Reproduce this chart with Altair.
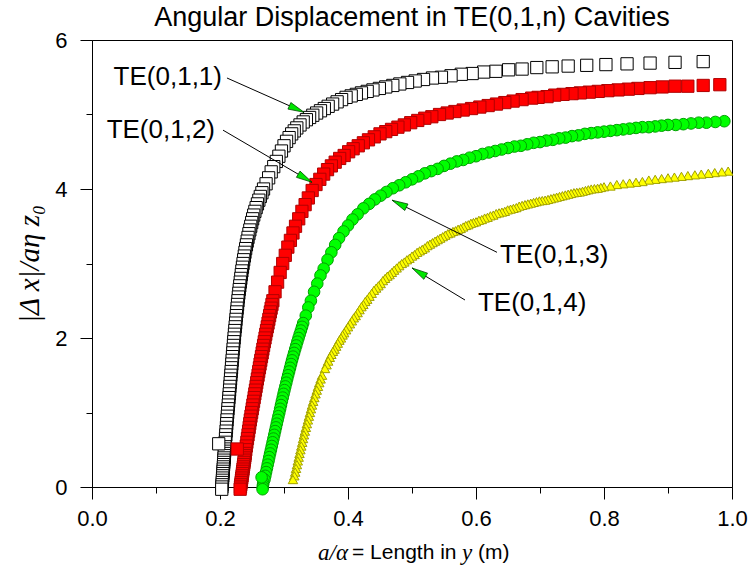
import altair as alt
import pandas as pd

title_text = "Angular Displacement in TE(0,1,n) Cavities"
x_title_parts = ["a/α", "= Length in", "y", "(m)"]
y_title = "|Δ x|/aη z₀"

x_major = [0.0, 0.2, 0.4, 0.6, 0.8, 1.0]
x_minor = [0.1, 0.3, 0.5, 0.7, 0.9]
y_major = [0, 2, 4, 6]
y_minor = [1, 3, 5]

# TE(0,1,1) - open squares
te011_x = [0.2027, 0.2030, 0.2033, 0.2035, 0.2038, 0.2040, 0.2043, 0.2046, 0.2048, 0.2051,
           0.2053, 0.2056, 0.2059, 0.2061, 0.2064, 0.2067, 0.2069, 0.2072, 0.2074, 0.2077,
           0.2082, 0.2086, 0.2091, 0.2096, 0.2101, 0.2105, 0.2110, 0.2115, 0.2120, 0.2125,
           0.2130, 0.2135, 0.2140, 0.2145, 0.2150, 0.2155, 0.2160, 0.2165, 0.2170, 0.2175,
           0.2180, 0.2185, 0.2190, 0.2195, 0.2200, 0.2205, 0.2210, 0.2215, 0.2221, 0.2226,
           0.2232, 0.2238, 0.2244, 0.2250, 0.2256, 0.2262, 0.2268, 0.2274, 0.2281, 0.2287,
           0.2294, 0.2301, 0.2309, 0.2317, 0.2325, 0.2333, 0.2342, 0.2351, 0.2360, 0.2370,
           0.2380, 0.2390, 0.2401, 0.2413, 0.2425, 0.2438, 0.2452, 0.2466, 0.2480, 0.2495,
           0.2510, 0.2527, 0.2545, 0.2565, 0.2585, 0.2607, 0.2630, 0.2655, 0.2680,
           0.272, 0.276, 0.280, 0.284, 0.288, 0.292, 0.296, 0.300, 0.304, 0.308,
           0.312, 0.316, 0.320, 0.325, 0.330, 0.335, 0.340, 0.345, 0.351, 0.357,
           0.363, 0.369, 0.376, 0.383, 0.390, 0.397, 0.405, 0.413, 0.421, 0.430,
           0.439, 0.449, 0.459, 0.470, 0.481, 0.493, 0.505, 0.518, 0.532, 0.546,
           0.561, 0.577, 0.594, 0.612, 0.631, 0.651, 0.672, 0.695, 0.719, 0.744,
           0.773, 0.803, 0.836, 0.872, 0.911, 0.955]
te011_y = [-0.03, 0.00, 0.03, 0.06, 0.09, 0.12, 0.15, 0.18, 0.21, 0.24,
           0.27, 0.30, 0.33, 0.36, 0.39, 0.42, 0.45, 0.48, 0.51, 0.54,
           0.60, 0.65, 0.70, 0.75, 0.80, 0.85, 0.90, 0.95, 1.00, 1.05,
           1.10, 1.15, 1.20, 1.25, 1.30, 1.35, 1.40, 1.45, 1.50, 1.55,
           1.60, 1.65, 1.70, 1.75, 1.80, 1.85, 1.90, 1.95, 2.00, 2.05,
           2.10, 2.15, 2.20, 2.25, 2.30, 2.35, 2.40, 2.45, 2.50, 2.55,
           2.60, 2.65, 2.70, 2.75, 2.80, 2.85, 2.90, 2.95, 3.00, 3.05,
           3.10, 3.15, 3.20, 3.25, 3.30, 3.35, 3.40, 3.45, 3.50, 3.55,
           3.60, 3.65, 3.70, 3.75, 3.80, 3.85, 3.90, 3.95, 4.00,
           4.07, 4.15, 4.23, 4.30, 4.37, 4.44, 4.51, 4.58, 4.64, 4.69,
           4.74, 4.78, 4.82, 4.86, 4.90, 4.93, 4.96, 4.99, 5.02, 5.05,
           5.08, 5.11, 5.14, 5.17, 5.20, 5.23, 5.25, 5.27, 5.29, 5.31,
           5.33, 5.35, 5.37, 5.39, 5.41, 5.43, 5.45, 5.47, 5.49, 5.50,
           5.52, 5.54, 5.55, 5.57, 5.58, 5.60, 5.61, 5.63, 5.64, 5.65,
           5.66, 5.67, 5.68, 5.69, 5.70, 5.71]
te011_first_x = [0.198]
te011_first_y = [0.58]

# TE(0,1,2) - red squares
te012_x = [0.2315, 0.2320, 0.2325, 0.2330, 0.2335, 0.2340, 0.2345, 0.2350, 0.2355, 0.2360,
           0.2365, 0.2370, 0.2375, 0.2380, 0.2385, 0.2390,
           0.2395, 0.2403, 0.2411, 0.2420, 0.2429, 0.2438, 0.2447, 0.2456, 0.2465, 0.2474,
           0.2484, 0.2494, 0.2504, 0.2514, 0.2524, 0.2534, 0.2544, 0.2554, 0.2564, 0.2574,
           0.2584, 0.2595, 0.2605, 0.2616, 0.2626, 0.2637, 0.2648, 0.2659, 0.2670, 0.2681,
           0.2692, 0.2704, 0.2715, 0.2727, 0.2739, 0.2751, 0.2763, 0.2775, 0.2787, 0.2799,
           0.2812, 0.2826,
           0.286, 0.290, 0.294, 0.298, 0.302, 0.306, 0.310, 0.314, 0.318, 0.323,
           0.328, 0.333, 0.338, 0.344, 0.350, 0.356, 0.362, 0.368, 0.374, 0.380,
           0.387, 0.394, 0.401, 0.408, 0.416, 0.424, 0.432, 0.441, 0.450, 0.459,
           0.468, 0.478, 0.488, 0.498, 0.509, 0.520, 0.531, 0.543, 0.555, 0.567,
           0.580, 0.593, 0.606, 0.619, 0.632, 0.645, 0.658, 0.672, 0.687, 0.697,
           0.711, 0.723, 0.736, 0.750, 0.763, 0.777, 0.791, 0.806, 0.822, 0.838,
           0.853, 0.872, 0.891, 0.911, 0.931, 0.955, 0.981]
te012_y = [-0.03, 0.00, 0.03, 0.06, 0.09, 0.12, 0.15, 0.18, 0.21, 0.24,
           0.27, 0.30, 0.33, 0.36, 0.39, 0.42,
           0.45, 0.50, 0.55, 0.60, 0.65, 0.70, 0.75, 0.80, 0.85, 0.90,
           0.95, 1.00, 1.05, 1.10, 1.15, 1.20, 1.25, 1.30, 1.35, 1.40,
           1.45, 1.50, 1.55, 1.60, 1.65, 1.70, 1.75, 1.80, 1.85, 1.90,
           1.95, 2.00, 2.05, 2.10, 2.15, 2.20, 2.25, 2.30, 2.35, 2.40,
           2.45, 2.50,
           2.62, 2.75, 2.88, 3.00, 3.11, 3.22, 3.31, 3.41, 3.50, 3.60,
           3.70, 3.79, 3.88, 3.98, 4.06, 4.13, 4.20, 4.26, 4.31, 4.36,
           4.41, 4.45, 4.50, 4.54, 4.58, 4.62, 4.66, 4.70, 4.74, 4.77,
           4.80, 4.83, 4.86, 4.89, 4.92, 4.95, 4.97, 5.00, 5.02, 5.04,
           5.06, 5.08, 5.10, 5.12, 5.14, 5.16, 5.18, 5.20, 5.22, 5.23,
           5.24, 5.26, 5.27, 5.28, 5.29, 5.30, 5.31, 5.32, 5.33, 5.34,
           5.35, 5.36, 5.37, 5.38, 5.38, 5.39, 5.40]
te012_first_x = [0.227]
te012_first_y = [0.51]

# TE(0,1,3) - green circles
te013_x = [0.2665, 0.2668, 0.2672, 0.2676,
           0.2695, 0.2708, 0.2720, 0.2733, 0.2745, 0.2758, 0.2770, 0.2783, 0.2796, 0.2809,
           0.2822, 0.2835, 0.2848, 0.2861, 0.2874, 0.2887, 0.2900, 0.2913, 0.2927, 0.2940,
           0.2953, 0.2966, 0.2980, 0.2993, 0.3007, 0.3021, 0.3036, 0.3050, 0.3065, 0.3080,
           0.3095, 0.3110, 0.3125, 0.3141, 0.3158, 0.3175, 0.3192, 0.3209, 0.3227, 0.3245,
           0.3264, 0.3282, 0.3300,
           0.334, 0.338, 0.342, 0.347, 0.352, 0.357, 0.362, 0.368, 0.374, 0.380,
           0.386, 0.393, 0.400, 0.407, 0.415, 0.424, 0.433, 0.442, 0.451, 0.460,
           0.470, 0.480, 0.490, 0.500, 0.510, 0.520, 0.530, 0.540, 0.550, 0.560,
           0.570, 0.580, 0.590, 0.600, 0.610, 0.620, 0.630, 0.640, 0.650, 0.660,
           0.670, 0.680, 0.690, 0.700, 0.710, 0.720, 0.730, 0.740, 0.750, 0.760,
           0.770, 0.780, 0.790, 0.800, 0.810, 0.820, 0.830, 0.840, 0.850, 0.860,
           0.870, 0.880, 0.890, 0.900, 0.912, 0.924, 0.936, 0.948, 0.960, 0.974,
           0.988]
te013_y = [-0.03, 0.00, 0.03, 0.06,
           0.10, 0.15, 0.20, 0.25, 0.30, 0.35, 0.40, 0.45, 0.50, 0.55,
           0.60, 0.65, 0.70, 0.75, 0.80, 0.85, 0.90, 0.95, 1.00, 1.05,
           1.10, 1.15, 1.20, 1.25, 1.30, 1.35, 1.40, 1.45, 1.50, 1.55,
           1.60, 1.65, 1.70, 1.75, 1.80, 1.85, 1.90, 1.95, 2.00, 2.05,
           2.10, 2.15, 2.20,
           2.30, 2.41, 2.50, 2.62, 2.73, 2.84, 2.93, 3.05, 3.15, 3.25,
           3.34, 3.43, 3.51, 3.59, 3.66, 3.74, 3.80, 3.86, 3.91, 3.96,
           4.01, 4.05, 4.09, 4.13, 4.17, 4.21, 4.24, 4.27, 4.31, 4.34,
           4.37, 4.39, 4.42, 4.44, 4.47, 4.49, 4.51, 4.53, 4.55, 4.57,
           4.58, 4.60, 4.62, 4.63, 4.65, 4.66, 4.68, 4.69, 4.71, 4.72,
           4.74, 4.75, 4.76, 4.77, 4.78, 4.79, 4.80, 4.81, 4.82, 4.83,
           4.83, 4.84, 4.85, 4.86, 4.86, 4.87, 4.88, 4.89, 4.89, 4.90,
           4.91]
te013_first_x = [0.265]
te013_first_y = [0.13]

# TE(0,1,4) - yellow triangles
te014_x = [0.3161, 0.3175, 0.3188, 0.3202, 0.3215, 0.3229, 0.3242, 0.3256, 0.3270, 0.3284,
           0.3297, 0.3311, 0.3326, 0.3342, 0.3357, 0.3373, 0.3389, 0.3405, 0.3421, 0.3437,
           0.3455, 0.3474, 0.3493, 0.3512, 0.3531, 0.3551, 0.3572, 0.3594,
           0.3640, 0.3665, 0.3690, 0.3715, 0.3740, 0.3765, 0.3790, 0.3815, 0.3840, 0.3865,
           0.3890, 0.3915, 0.3940, 0.3970, 0.4000, 0.4030, 0.4060, 0.4090, 0.4120, 0.4150,
           0.4180, 0.4210, 0.4240, 0.4270, 0.4300, 0.4335, 0.4370, 0.4405, 0.4440, 0.4475,
           0.4510, 0.4545, 0.4580, 0.4615, 0.4650, 0.4685, 0.4720, 0.4760, 0.4800, 0.4840,
           0.4880, 0.4920, 0.4960, 0.5000, 0.5040, 0.5080, 0.5120, 0.5160, 0.5200, 0.5240,
           0.5280, 0.5320, 0.5360, 0.5400, 0.5440, 0.5480, 0.5520, 0.5560, 0.5600, 0.5640,
           0.5680, 0.5720, 0.5760, 0.5800, 0.5840, 0.5880, 0.5920, 0.5960, 0.6000, 0.6045,
           0.6090, 0.6135, 0.6180, 0.6225, 0.6270, 0.6315, 0.6360, 0.6405, 0.6450, 0.6495,
           0.6540, 0.6585, 0.6630, 0.6675, 0.6720, 0.6765, 0.6810, 0.6855, 0.6900, 0.6945,
           0.6990, 0.7035, 0.7080, 0.7125, 0.7170, 0.7215, 0.7260, 0.7305, 0.7350, 0.7395,
           0.7440, 0.7485, 0.7530, 0.7575, 0.7620, 0.7665, 0.7710, 0.7755, 0.7800, 0.7850,
           0.7900, 0.7950, 0.8000, 0.8100, 0.8200, 0.8300, 0.8400, 0.8500, 0.8600, 0.8700,
           0.8800, 0.8900, 0.9000, 0.9100, 0.9210, 0.9310, 0.9420, 0.9520, 0.9630, 0.9730,
           0.9840, 0.9940]
te014_y = [0.15, 0.20, 0.25, 0.30, 0.35, 0.40, 0.45, 0.50, 0.55, 0.60,
           0.65, 0.70, 0.75, 0.80, 0.85, 0.90, 0.95, 1.00, 1.05, 1.10,
           1.15, 1.20, 1.25, 1.30, 1.35, 1.40, 1.45, 1.50,
           1.59, 1.64, 1.69, 1.74, 1.78, 1.82, 1.85, 1.89, 1.93, 1.97,
           2.00, 2.04, 2.07, 2.11, 2.15, 2.19, 2.23, 2.27, 2.30, 2.34,
           2.38, 2.42, 2.45, 2.49, 2.52, 2.56, 2.60, 2.64, 2.67, 2.70,
           2.73, 2.77, 2.80, 2.83, 2.85, 2.88, 2.91, 2.94, 2.97, 3.00,
           3.02, 3.05, 3.07, 3.10, 3.12, 3.15, 3.17, 3.19, 3.21, 3.24,
           3.26, 3.28, 3.30, 3.32, 3.34, 3.36, 3.38, 3.40, 3.41, 3.43,
           3.44, 3.46, 3.47, 3.49, 3.51, 3.52, 3.54, 3.55, 3.56, 3.58,
           3.59, 3.61, 3.62, 3.64, 3.65, 3.67, 3.68, 3.69, 3.70, 3.72,
           3.73, 3.74, 3.75, 3.77, 3.78, 3.79, 3.80, 3.81, 3.82, 3.83,
           3.84, 3.845, 3.85, 3.86, 3.87, 3.88, 3.89, 3.90, 3.91, 3.92,
           3.93, 3.94, 3.95, 3.955, 3.96, 3.97, 3.98, 3.99, 4.00, 4.005,
           4.01, 4.02, 4.03, 4.04, 4.06, 4.07, 4.08, 4.09, 4.10, 4.12,
           4.13, 4.14, 4.15, 4.16, 4.17, 4.18, 4.19, 4.20, 4.21, 4.22,
           4.23, 4.24]
te014_first_x = [0.314]
te014_first_y = [0.10]

# annotations
label_text = ["TE(0,1,1)", "TE(0,1,2)", "TE(0,1,3)", "TE(0,1,4)"]
label_x = [0.2031, 0.1922, 0.6375, 0.6031]
label_y = [5.50, 4.79, 3.11, 2.47]
arrow_x1 = [0.2109, 0.2047, 0.6328, 0.5828]
arrow_y1 = [5.49, 4.79, 3.15, 2.51]
arrow_x2 = [0.3313, 0.3438, 0.4688, 0.5000]
arrow_y2 = [5.03, 4.09, 3.85, 2.94]
arrow_angle = [23.8, 30.3, 206.3, 211.1]

SANS = "Liberation Sans"
SERIF = "Liberation Serif"


def series_df(xs, ys, fx, fy):
    return pd.DataFrame({"x": list(reversed(xs)) + fx, "y": list(reversed(ys)) + fy})


d1 = series_df(te011_x, te011_y, te011_first_x, te011_first_y)
d2 = series_df(te012_x, te012_y, te012_first_x, te012_first_y)
d3 = series_df(te013_x, te013_y, te013_first_x, te013_first_y)
d4 = series_df(te014_x, te014_y, te014_first_x, te014_first_y)

ann = pd.DataFrame({"label": label_text, "lx": label_x, "ly": label_y,
                    "x1": arrow_x1, "y1": arrow_y1, "x2": arrow_x2, "y2": arrow_y2,
                    "angle": arrow_angle})
title_df = pd.DataFrame({"t": [title_text]})
xt_df = pd.DataFrame({"t": x_title_parts})

xsc = alt.Scale(domain=[0, 1], nice=False, zero=False)
ysc = alt.Scale(domain=[0, 6], nice=False, zero=False)

major_x = alt.Axis(values=x_major, format=".1f", tickSize=12, tickColor="black",
                   domainColor="black", labelFont=SANS, labelFontSize=22, labelColor="black",
                   labelPadding=9, labelFlush=False, grid=False, orient="bottom", title="")
minor_x = alt.Axis(values=x_minor, tickSize=6, tickColor="black", labels=False, domain=False,
                   grid=False, orient="bottom", title="")
major_y = alt.Axis(values=y_major, format="d", tickSize=12, tickColor="black",
                   domainColor="black", labelFont=SANS, labelFontSize=22, labelColor="black",
                   labelPadding=13, labelFlush=False, grid=False, orient="left",
                   title=y_title, titleFont=SERIF, titleFontSize=29, titleFontStyle="italic",
                   titleFontWeight="normal", titleColor="black", titlePadding=10)
minor_y = alt.Axis(values=y_minor, tickSize=6, tickColor="black", labels=False, domain=False,
                   grid=False, orient="left", title="")

axes_major = alt.Chart(d1).mark_point(opacity=0).encode(
    x=alt.X("x:Q", scale=xsc, axis=major_x), y=alt.Y("y:Q", scale=ysc, axis=major_y))
axes_minor = alt.Chart(d1).mark_point(opacity=0).encode(
    x=alt.X("x:Q", scale=xsc, axis=minor_x), y=alt.Y("y:Q", scale=ysc, axis=minor_y))


def series_layer(df, shape, fill, stroke, size):
    return alt.Chart(df).mark_point(shape=shape, filled=True, fill=fill, stroke=stroke,
                                    strokeWidth=1, size=size, opacity=1).encode(
        x=alt.X("x:Q", scale=xsc, axis=None), y=alt.Y("y:Q", scale=ysc, axis=None))


l1 = series_layer(d1, "square", "#ffffff", "#000000", 150)
l2 = series_layer(d2, "square", "#ff0000", "#b00000", 150)
l3 = series_layer(d3, "circle", "#00ff00", "#00a000", 135)
l4 = series_layer(d4, "triangle-up", "#ffff00", "#a0a000", 90)

arrows = alt.Chart(ann).mark_rule(color="black", strokeWidth=1).encode(
    x=alt.X("x1:Q", scale=xsc, axis=None), y=alt.Y("y1:Q", scale=ysc, axis=None),
    x2="x2:Q", y2="y2:Q")
heads = alt.Chart(ann).mark_point(shape="M0,0L-2,-0.45L-2,0.45Z", filled=True, fill="#00e600",
                                  stroke="#004400", strokeWidth=0.7, size=256, opacity=1).encode(
    x=alt.X("x2:Q", scale=xsc, axis=None), y=alt.Y("y2:Q", scale=ysc, axis=None),
    angle=alt.Angle("angle:Q", scale=None))
text_r = alt.Chart(ann).transform_filter(alt.datum.lx < 0.4).mark_text(
    align="right", baseline="middle", font=SANS, fontSize=26, color="black").encode(
    x=alt.X("lx:Q", scale=xsc, axis=None), y=alt.Y("ly:Q", scale=ysc, axis=None), text="label:N")
text_l = alt.Chart(ann).transform_filter(alt.datum.lx > 0.4).mark_text(
    align="left", baseline="middle", font=SANS, fontSize=26, color="black").encode(
    x=alt.X("lx:Q", scale=xsc, axis=None), y=alt.Y("ly:Q", scale=ysc, axis=None), text="label:N")
title_mark = alt.Chart(title_df).mark_text(
    align="center", baseline="middle", font=SANS, fontSize=27, color="black").encode(
    x=alt.value(320), y=alt.value(-22), text="t:N")


def xt_part(i, x_px, serif):
    mk = dict(align="left", baseline="middle", fontSize=21, color="black")
    if serif:
        mk.update(font=SERIF, fontStyle="italic", fontSize=23)
    else:
        mk.update(font=SANS)
    return alt.Chart(xt_df).transform_filter(alt.datum.t == x_title_parts[i]).mark_text(**mk).encode(
        x=alt.value(x_px), y=alt.value(513), text="t:N")


xt1 = xt_part(0, 226, True)
xt2 = xt_part(1, 260, False)
xt3 = xt_part(2, 370, True)
xt4 = xt_part(3, 386, False)

chart = alt.layer(axes_major, axes_minor, l1, l2, l3, l4, arrows, heads, text_r, text_l,
                  title_mark, xt1, xt2, xt3, xt4).resolve_axis(
    x="independent", y="independent").properties(
    width=640, height=447,
    autosize=alt.AutoSizeParams(type="none"),
    padding={"left": 92, "top": 40, "right": 19, "bottom": 95},
).configure_view(stroke="black", strokeWidth=1)

chart.save("out.html", embed_options={"renderer": "svg", "actions": False})
